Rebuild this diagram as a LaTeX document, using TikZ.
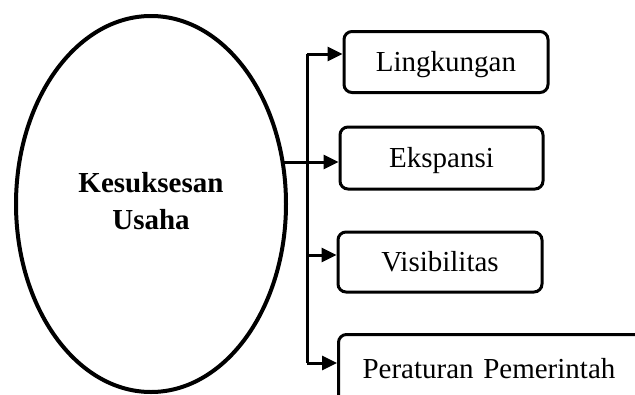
\documentclass[tikz,border=0pt]{standalone}
\usepackage{fontspec}
\setmainfont{Liberation Serif}
\usetikzlibrary{arrows.meta, positioning, shapes.geometric}
\tikzstyle{oval}=[ellipse, draw, line width=4pt, minimum width=270pt, minimum height=376pt, font=\fontsize{29}{37}\selectfont\bfseries]
\tikzstyle{factor}=[rectangle, draw, rounded corners=8pt, line width=3pt, text height=25pt, text depth=6pt, font=\fontsize{29}{34}\selectfont]
\tikzstyle{link}=[line width=3pt, -{Triangle[length=15pt, width=14pt]}]

\begin{document}
\begin{tikzpicture}[x=1pt, y=-1pt]
\useasboundingbox (0,0) rectangle (635,394);
\clip (0,0) rectangle (635,394);

% Main oval
\node[oval] (usaha) at (151,204) {\raisebox{8pt}{\begin{tabular}{@{}c@{}}Kesuksesan\\Usaha\end{tabular}}};

% Factors
\node[factor, minimum width=204pt, minimum height=61pt] (lingkungan) at (446,62) {Lingkungan};
\node[factor, minimum width=203pt, minimum height=62pt] (ekspansi) at (441.5,158) {Ekspansi};
\node[factor, minimum width=204pt, minimum height=60pt] (visibilitas) at (440,262) {Visibilitas};
\node[factor, anchor=north west, minimum height=68pt, text width=290pt, inner xsep=24pt, align=left] (peraturan) at (337,333) {Peraturan Pemerintah};

% Bus
\coordinate (b1) at (307,54);
\coordinate (b2) at (307,162);
\coordinate (b3) at (307,255);
\coordinate (b4) at (307,363);
\draw[line width=3pt] (b1) -- (b4);

\draw[link] (usaha.18 |- b2) -- (b2 -| ekspansi.west);
\draw[link] (b1) -- (b1 -| lingkungan.west);
\draw[link] (b3) -- (b3 -| visibilitas.west);
\draw[link] (b4) -- (b4 -| peraturan.west);

\end{tikzpicture}
\end{document}
